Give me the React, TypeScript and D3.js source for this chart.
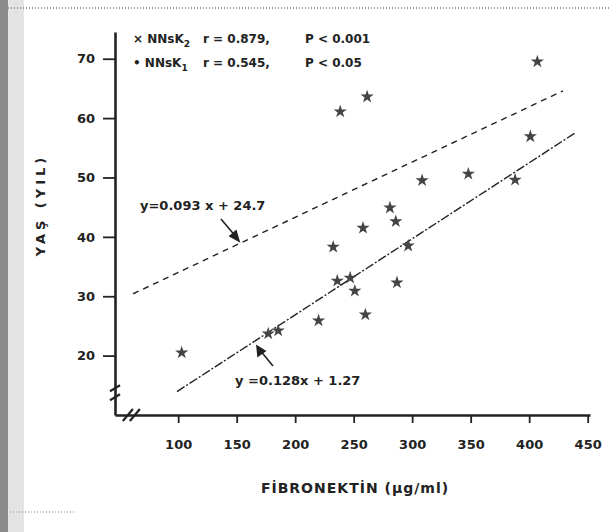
import React, { useEffect, useRef } from "react";
import * as d3 from "d3";

// fibronectin (ug/ml) vs age (years)
const fibronectin = [103, 177, 185.5, 220, 232.5, 238.5, 236, 247, 251, 258, 260, 261.5, 281, 286, 287, 296.6, 308.5, 348, 388, 401, 407];
const age = [20.5, 23.7, 24.2, 25.9, 38.3, 61.1, 32.6, 33.1, 30.9, 41.5, 26.9, 63.6, 44.9, 42.6, 32.3, 38.5, 49.5, 50.6, 49.6, 56.9, 69.5];

const xTicks = [100, 150, 200, 250, 300, 350, 400, 450];
const yTicks = [20, 30, 40, 50, 60, 70];

// regression lines as printed on the chart
const fitSlopes = [0.093, 0.128];
const fitIntercepts = [24.7, 1.27];
const fitStart = [61.5, 99];
const fitEnd = [429, 439];
const fitDash = ["6,5", "9,2,2,2"];

const legendLines = [
  { mark: "×", name: "NNsK", sub: "2", stat: "r = 0.879,", p: "P < 0.001" },
  { mark: "•", name: "NNsK", sub: "1", stat: "r = 0.545,", p: "P < 0.05" },
];

const W = 610;
const H = 532;
const FONT = "'DejaVu Sans', sans-serif";

const App = () => {
  const svgRef = useRef<SVGSVGElement>(null);

  useEffect(() => {
    const svg = d3.select(svgRef.current);
    svg.selectAll("*").remove();

    const x = d3.scaleLinear().domain([46, 452]).range([115, 590]);
    const y = d3.scaleLinear().domain([10, 74.5]).range([415, 32]);

    svg.append("rect").attr("width", W).attr("height", H).attr("fill", "#fff");

    // scanned page edges
    svg.append("rect").attr("x", 0).attr("y", 0).attr("width", 8).attr("height", H).attr("fill", "#8a8a8a");
    svg.append("rect").attr("x", 8).attr("y", 0).attr("width", 16).attr("height", H).attr("fill", "#e4e4e4");
    svg.append("line").attr("x1", 8).attr("x2", W).attr("y1", 8).attr("y2", 8)
      .attr("stroke", "#999").attr("stroke-width", 2).attr("stroke-dasharray", "1,2");
    svg.append("line").attr("x1", 10).attr("x2", 75).attr("y1", 512).attr("y2", 512)
      .attr("stroke", "#aaa").attr("stroke-width", 1.5).attr("stroke-dasharray", "1,2");

    // axes
    const xAxis = svg.append("g")
      .attr("transform", `translate(0,${y(10)})`)
      .call(d3.axisBottom(x).tickValues(xTicks).tickSize(8).tickPadding(17).tickSizeOuter(0));
    const yAxis = svg.append("g")
      .attr("transform", `translate(${x(46)},0)`)
      .call(d3.axisLeft(y).tickValues(yTicks).tickSize(12).tickPadding(8).tickSizeOuter(0));

    [xAxis, yAxis].forEach((g) => {
      g.select(".domain").attr("stroke", "#222").attr("stroke-width", 2.6);
      g.selectAll(".tick line").attr("stroke", "#222").attr("stroke-width", 1.8);
      g.selectAll(".tick text")
        .attr("fill", "#222")
        .style("font-family", FONT)
        .style("font-size", "13px")
        .style("font-weight", "bold");
    });

    // axis breaks
    const brk = svg.append("g").attr("stroke", "#222").attr("stroke-width", 2.2);
    [0, 7].forEach((d) => {
      brk.append("line")
        .attr("x1", x(57) + d - 5).attr("x2", x(57) + d + 5)
        .attr("y1", y(10) + 6).attr("y2", y(10) - 6);
    });
    brk.append("line")
      .attr("x1", x(46) - 5).attr("x2", x(46) + 5)
      .attr("y1", y(14.5) + 3).attr("y2", y(14.5) - 3);
    brk.append("line")
      .attr("x1", x(46) - 5).attr("x2", x(46) + 5)
      .attr("y1", y(13) + 3).attr("y2", y(13) - 3);

    // regression lines
    fitSlopes.forEach((m, i) => {
      const pts: [number, number][] = [fitStart[i], fitEnd[i]].map((v) => [v, m * v + fitIntercepts[i]]);
      svg.append("path")
        .attr("d", d3.line().x((d) => x(d[0])).y((d) => y(d[1]))(pts))
        .attr("fill", "none")
        .attr("stroke", "#222")
        .attr("stroke-width", 1.4)
        .attr("stroke-dasharray", fitDash[i]);
    });

    // points
    const star = d3.symbol().type(d3.symbolStar).size(55);
    svg.append("g")
      .selectAll("path")
      .data(fibronectin)
      .enter()
      .append("path")
      .attr("d", star)
      .attr("transform", (d, i) => `translate(${x(d)},${y(age[i])})`)
      .attr("fill", "#444");

    // equation labels with arrows
    const ann = svg.append("g")
      .style("font-family", FONT)
      .style("font-size", "13px")
      .style("font-weight", "bold")
      .attr("fill", "#222");
    ann.append("text").attr("x", 140).attr("y", 210).text("y=0.093 x + 24.7");
    ann.append("text").attr("x", 235).attr("y", 385).text("y =0.128x + 1.27");
    const arr = svg.append("g").attr("stroke", "#222").attr("stroke-width", 1.6).attr("fill", "#222");
    arr.append("line").attr("x1", 221).attr("y1", 219).attr("x2", 237).attr("y2", 238);
    arr.append("path").attr("d", "M239,241 L230,236 L236,231 Z");
    arr.append("line").attr("x1", 273).attr("y1", 366).attr("x2", 259).attr("y2", 349);
    arr.append("path").attr("d", "M257,346 L258,356 L265,351 Z");

    // legend
    const leg = svg.append("g")
      .style("font-family", FONT)
      .style("font-size", "12px")
      .style("font-weight", "bold")
      .attr("fill", "#222");
    legendLines.forEach((d, i) => {
      const t = leg.append("text").attr("x", 133).attr("y", 43 + i * 24);
      t.append("tspan").text(d.mark + " ");
      t.append("tspan").text(d.name);
      t.append("tspan").attr("dy", 4).style("font-size", "9px").text(d.sub);
      t.append("tspan").attr("dy", -4).attr("x", 203).text(d.stat);
      t.append("tspan").attr("x", 305).text(d.p);
    });

    // axis titles
    svg.append("text")
      .attr("x", 355).attr("y", 493)
      .attr("text-anchor", "middle")
      .style("font-family", FONT)
      .style("font-size", "14px")
      .style("font-weight", "bold")
      .style("letter-spacing", "1px")
      .attr("fill", "#222")
      .text("FİBRONEKTİN (μg/ml)");
    svg.append("text")
      .attr("transform", "translate(45,205) rotate(-90)")
      .attr("text-anchor", "middle")
      .style("font-family", FONT)
      .style("font-size", "13px")
      .style("font-weight", "bold")
      .style("letter-spacing", "4px")
      .attr("fill", "#222")
      .text("YAŞ (YIL)");
  }, []);

  return (
    <svg
      ref={svgRef}
      width={W}
      height={H}
      style={{ position: "absolute", left: 0, top: 0, display: "block" }}
    />
  );
};

export default App;
